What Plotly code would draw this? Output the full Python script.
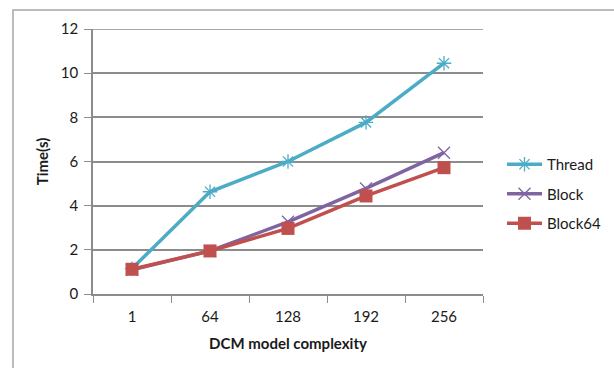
import plotly.graph_objects as go

categories = ["1", "64", "128", "192", "256"]
thread = [1.15, 4.63, 6.0, 7.77, 10.45]
block = [1.1, 1.95, 3.27, 4.78, 6.4]
block64 = [1.12, 1.95, 2.97, 4.44, 5.72]
y_ticks = [0, 2, 4, 6, 8, 10, 12]

W, H = 614, 368
L, R, T, B = 93, 131, 29, 74
pw, ph = W - L - R, H - T - B

font = "Lato, Open Sans, sans-serif"
grid = "#8C8C8C"

fig = go.Figure()
fig.add_trace(go.Scatter(x=categories, y=thread, name="Thread", mode="lines+markers",
                         legendgroup="a",
                         line=dict(color="#4BACC6", width=3.5),
                         marker=dict(symbol="asterisk-open", size=12, color="#4BACC6",
                                     line=dict(width=1.3, color="#4BACC6"))))
fig.add_trace(go.Scatter(x=categories, y=block, name="Block", mode="lines+markers",
                         legendgroup="b",
                         line=dict(color="#8064A2", width=3.5),
                         marker=dict(symbol="x-thin-open", size=12, color="#8064A2",
                                     line=dict(width=1.3, color="#8064A2"))))
fig.add_trace(go.Scatter(x=categories, y=block64, name="Block64", mode="lines+markers",
                         legendgroup="c",
                         line=dict(color="#C0504D", width=3.5),
                         marker=dict(symbol="square", size=13, color="#C0504D")))

fig.add_shape(type="rect", xref="paper", yref="paper",
              x0=(13 - L) / pw, x1=(640 - L) / pw,
              y0=(H - B - 400) / ph, y1=(H - B - 10) / ph,
              line=dict(color="#A6A6A6", width=1.5), layer="below")
# top gridline at the highest tick
fig.add_shape(type="line", xref="paper", yref="y", x0=0, x1=1,
              y0=y_ticks[-1], y1=y_ticks[-1], line=dict(color=grid, width=1.5), layer="below")

fig.update_layout(
    width=W, height=H, margin=dict(l=L, r=R, t=T, b=B, autoexpand=False),
    paper_bgcolor="white", plot_bgcolor="white",
    font=dict(family=font, size=15, color="#1a1a1a"),
    showlegend=True,
    legend=dict(xref="container", yref="container", x=502 / W, y=(H - 148) / H,
                xanchor="left", yanchor="top",
                font=dict(size=15, color="#1a1a1a"), tracegroupgap=7,
                itemwidth=35, bgcolor="rgba(0,0,0,0)"),
    xaxis=dict(type="category", range=[-0.5, len(categories) - 0.5],
               tickson="boundaries", ticks="outside", ticklen=7,
               tickcolor=grid, showline=True, linecolor=grid, linewidth=1.5,
               showgrid=False, tickfont=dict(size=15), ticklabelstandoff=8,
               title=dict(text="<b>DCM model complexity</b>", font=dict(size=15), standoff=15)),
    yaxis=dict(range=[0, 12], tickvals=y_ticks, ticks="outside", ticklen=7,
               tickcolor=grid, showline=True, linecolor=grid, linewidth=1.5,
               showgrid=True, gridcolor=grid, gridwidth=1.5, zeroline=False,
               tickfont=dict(size=15), ticklabelstandoff=3,
               title=dict(text="<b>Time(s)</b>", font=dict(size=15), standoff=9)),
)

fig.write_html("out.html")
